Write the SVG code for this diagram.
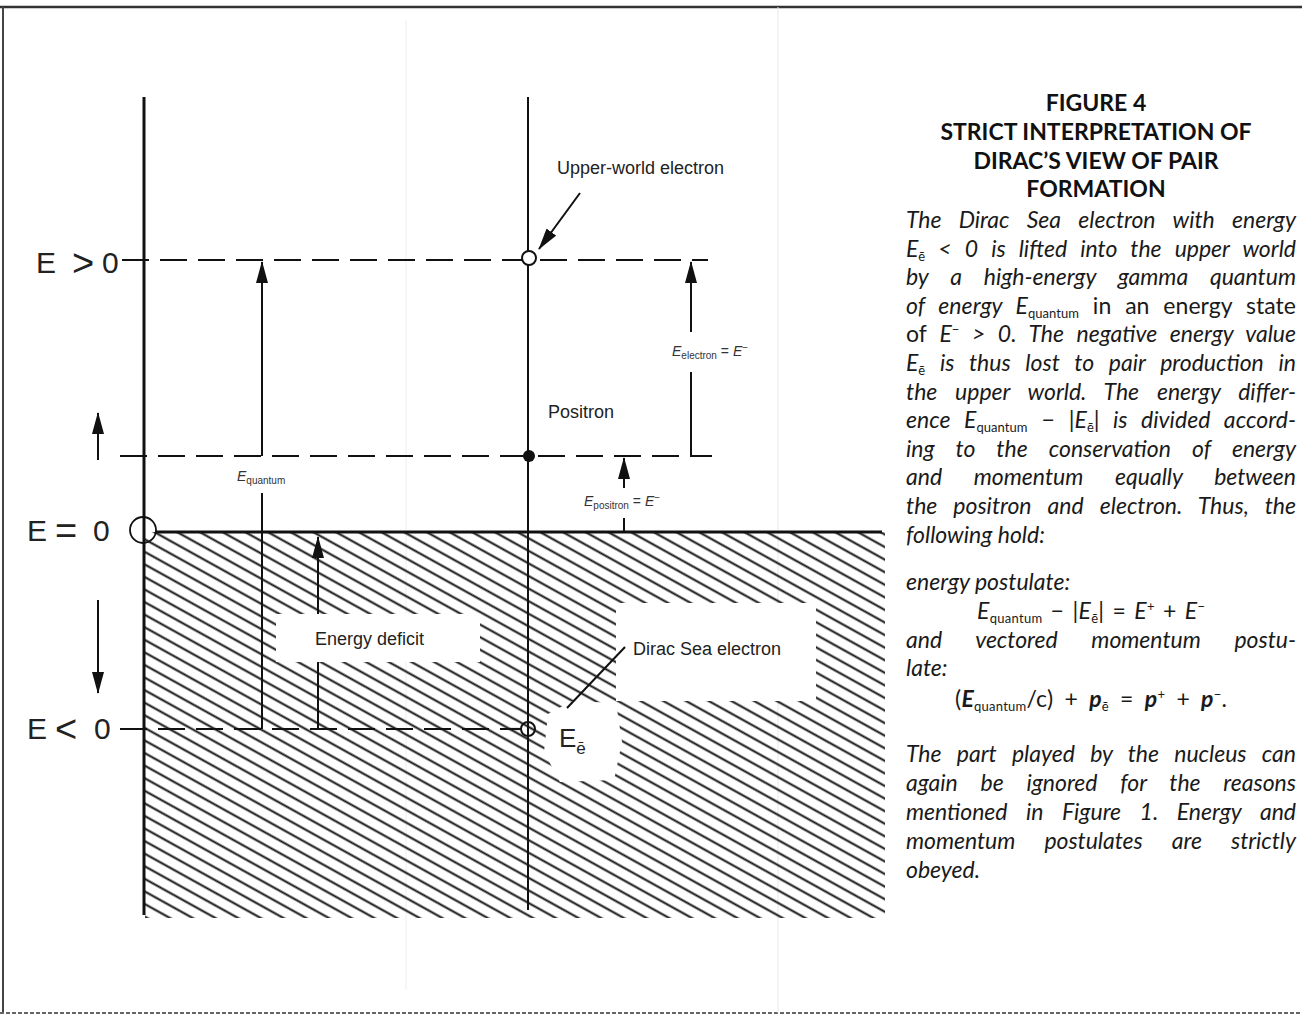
<svg xmlns="http://www.w3.org/2000/svg" width="1302" height="1020" viewBox="0 0 1302 1020">
<style>
.lbl{font-family:"Liberation Sans",Arial,sans-serif;font-size:18px;fill:#222}
.big{font-family:"Liberation Sans",Arial,sans-serif;font-size:30px;fill:#222}
.sym{font-size:38px}
.sm{font-family:"Liberation Sans",Arial,sans-serif;font-size:14px;fill:#333}
.smi{font-style:italic}
.sub{font-size:10px}
.ttl{font-family:Lato,"Open Sans",sans-serif;font-weight:bold;font-size:23px;fill:#111}
.body{font-family:Lato,"Open Sans",sans-serif;font-style:italic;font-size:23px;fill:#1a1a1a}
.up{font-style:normal}
.bs{font-size:13px;font-style:normal}
.bb{font-weight:bold}
.ln{stroke:#111;stroke-width:2;fill:none}
.dash{stroke:#111;stroke-width:2.2;stroke-dasharray:27 11;fill:none}
.arr{stroke:#111;stroke-width:2;fill:none;marker-end:url(#ah)}
</style>
<defs>
<marker id="ah" markerUnits="userSpaceOnUse" markerWidth="22" markerHeight="12" viewBox="0 0 22 12" refX="21" refY="6" orient="auto">
<path d="M0,0 L22,6 L0,12 Z" fill="#111"/>
</marker>
<pattern id="hatch" patternUnits="userSpaceOnUse" width="40" height="11" patternTransform="rotate(29)">
<line x1="0" y1="5.5" x2="40" y2="5.5" stroke="#111" stroke-width="2.2"/>
</pattern>
</defs>
<rect width="1302" height="1020" fill="#fff"/>
<g id="frame">
<line x1="0" y1="7" x2="1302" y2="7" stroke="#333" stroke-width="2.5"/>
<line x1="3" y1="7" x2="3" y2="1013" stroke="#444" stroke-width="2"/>
<line x1="0" y1="1013" x2="1302" y2="1013" stroke="#666" stroke-width="2" stroke-dasharray="4 2"/>
<line x1="406" y1="20" x2="406" y2="990" stroke="#eee" stroke-width="1"/>
<line x1="778" y1="7" x2="778" y2="1013" stroke="#e8e8e8" stroke-width="1"/>
</g>
<g id="dirac-sea">
<rect x="145" y="532" width="740" height="386" fill="url(#hatch)"/>
<rect x="276" y="614" width="204" height="48" fill="#fff"/>
<rect x="616" y="603" width="200" height="98" fill="#fff"/>
<polygon points="548,714 572,701 616,703 622,742 614,780 560,782 544,752" fill="#fff"/>
</g>
<g id="axes">
<line x1="144" y1="97" x2="144" y2="915" stroke="#111" stroke-width="3"/>
<line x1="156" y1="532" x2="882" y2="532" stroke="#111" stroke-width="3"/>
<line x1="528" y1="97" x2="528" y2="910" stroke="#111" stroke-width="2"/>
<circle cx="143" cy="530" r="13" fill="none" stroke="#111" stroke-width="1.8"/>
</g>
<g id="connectors">
<line class="dash" x1="122" y1="260" x2="708" y2="260"/>
<line class="dash" x1="120" y1="456" x2="712" y2="456"/>
<line class="dash" x1="120" y1="729" x2="521" y2="729"/>
<line class="arr" x1="98" y1="460" x2="98" y2="413"/>
<line class="arr" x1="98" y1="600" x2="98" y2="693"/>
<line class="arr" x1="262" y1="456" x2="262" y2="262"/>
<line class="ln" x1="262" y1="493" x2="262" y2="729"/>
<line class="arr" x1="318" y1="614" x2="318" y2="537"/>
<line class="ln" x1="318" y1="662" x2="318" y2="729"/>
<line class="arr" x1="691" y1="332" x2="691" y2="262"/>
<line class="ln" x1="691" y1="372" x2="691" y2="456"/>
<line class="arr" x1="624" y1="488" x2="624" y2="458"/>
<line class="ln" x1="624" y1="518" x2="624" y2="531"/>
<line class="arr" x1="580" y1="193" x2="539" y2="249"/>
<line class="ln" x1="625" y1="647" x2="567" y2="708"/>
</g>
<g id="upper-electron"><circle cx="529" cy="258" r="7" fill="#fff" stroke="#111" stroke-width="2"/></g>
<g id="positron"><circle cx="529" cy="456" r="6" fill="#111"/></g>
<g id="sea-electron"><circle cx="528" cy="729" r="7" fill="none" stroke="#111" stroke-width="2"/></g>
<g id="labels">
<text class="big" x="36" y="273">E</text><text class="big sym" x="72" y="276">&gt;</text><text class="big" x="102" y="273">0</text>
<text class="big" x="27" y="541">E</text><text class="big sym" x="55" y="544">=</text><text class="big" x="93" y="541">0</text>
<text class="big" x="27" y="739">E</text><text class="big sym" x="55" y="742">&lt;</text><text class="big" x="94" y="739">0</text>
<text class="lbl" x="557" y="174">Upper-world electron</text>
<text class="lbl" x="548" y="418">Positron</text>
<text class="lbl" x="315" y="645">Energy deficit</text>
<text class="lbl" x="633" y="655">Dirac Sea electron</text>
<text class="big" x="559" y="747" style="font-size:26px">E<tspan dy="7" style="font-size:17px">ē</tspan></text>
<text class="sm" x="237" y="481"><tspan class="smi">E</tspan><tspan class="sub" dy="3">quantum</tspan></text>
<text class="sm" x="672" y="356"><tspan class="smi">E</tspan><tspan class="sub" dy="3">electron</tspan><tspan dy="-3"> = </tspan><tspan class="smi">E</tspan><tspan class="sub" dy="-5">−</tspan></text>
<text class="sm" x="584" y="506"><tspan class="smi">E</tspan><tspan class="sub" dy="3">positron</tspan><tspan dy="-3"> = </tspan><tspan class="smi">E</tspan><tspan class="sub" dy="-5">−</tspan></text>
</g>
<g id="caption">
<text class="ttl" x="1096" y="111" text-anchor="middle">FIGURE 4</text>
<text class="ttl" x="1096" y="140" text-anchor="middle">STRICT INTERPRETATION OF</text>
<text class="ttl" x="1096" y="169" text-anchor="middle">DIRAC’S VIEW OF PAIR</text>
<text class="ttl" x="1096" y="197" text-anchor="middle">FORMATION</text>
<text class="body" x="906" y="228" word-spacing="11.9" textLength="390" lengthAdjust="spacing">The Dirac Sea electron with energy</text>
<text class="body" x="906" y="257" word-spacing="7.7" textLength="390" lengthAdjust="spacing">E<tspan class="bs" dy="4">ē</tspan><tspan dy="-4"> &lt; 0 is lifted into the upper world</tspan></text>
<text class="body" x="906" y="285" word-spacing="16.5" textLength="390" lengthAdjust="spacing">by a high-energy gamma quantum</text>
<text class="body" x="906" y="314" word-spacing="7.9" textLength="390" lengthAdjust="spacing">of energy E<tspan class="bs" dy="4">quantum</tspan><tspan class="up" dy="-4"> in an energy state</tspan></text>
<text class="body" x="906" y="342" word-spacing="7.2" textLength="390" lengthAdjust="spacing"><tspan class="up">of </tspan>E<tspan class="bs" dy="-8">−</tspan><tspan dy="8"> &gt; 0. The negative energy value</tspan></text>
<text class="body" x="906" y="371" word-spacing="9.3" textLength="390" lengthAdjust="spacing">E<tspan class="bs" dy="4">ē</tspan><tspan dy="-4"> is thus lost to pair production in</tspan></text>
<text class="body" x="906" y="400" word-spacing="12.4" textLength="390" lengthAdjust="spacing">the upper world. The energy differ-</text>
<text class="body" x="906" y="428" word-spacing="7.9" textLength="390" lengthAdjust="spacing">ence E<tspan class="bs" dy="4">quantum</tspan><tspan class="up" dy="-4"> − |</tspan>E<tspan class="bs" dy="4">ē</tspan><tspan class="up" dy="-4">|</tspan> is divided accord-</text>
<text class="body" x="906" y="457" word-spacing="15.7" textLength="390" lengthAdjust="spacing">ing to the conservation of energy</text>
<text class="body" x="906" y="485" word-spacing="26.2" textLength="390" lengthAdjust="spacing">and momentum equally between</text>
<text class="body" x="906" y="514" word-spacing="10.7" textLength="390" lengthAdjust="spacing">the positron and electron. Thus, the</text>
<text class="body" x="906" y="543">following hold:</text>
<text class="body" x="906" y="590">energy postulate:</text>
<text class="body" x="977" y="619" word-spacing="2" textLength="228" lengthAdjust="spacing">E<tspan class="bs" dy="4">quantum</tspan><tspan class="up" dy="-4"> − |</tspan>E<tspan class="bs" dy="4">ē</tspan><tspan class="up" dy="-4">| = </tspan>E<tspan class="bs" dy="-8">+</tspan><tspan class="up" dy="8"> + </tspan>E<tspan class="bs" dy="-8">−</tspan></text>
<text class="body" x="906" y="648" word-spacing="28.3" textLength="390" lengthAdjust="spacing">and vectored momentum postu-</text>
<text class="body" x="906" y="676">late:</text>
<text class="body" x="955" y="707" word-spacing="5" textLength="272" lengthAdjust="spacing"><tspan class="up">(</tspan><tspan class="bb">E</tspan><tspan class="bs" dy="4">quantum</tspan><tspan class="up" dy="-4">/c) + </tspan><tspan class="bb">p</tspan><tspan class="bs" dy="4">ē</tspan><tspan class="up" dy="-4"> = </tspan><tspan class="bb">p</tspan><tspan class="bs" dy="-8">+</tspan><tspan class="up" dy="8"> + </tspan><tspan class="bb">p</tspan><tspan class="bs" dy="-8">−</tspan><tspan class="up" dy="8">.</tspan></text>
<text class="body" x="906" y="762" word-spacing="10" textLength="390" lengthAdjust="spacing">The part played by the nucleus can</text>
<text class="body" x="906" y="791" word-spacing="17.4" textLength="390" lengthAdjust="spacing">again be ignored for the reasons</text>
<text class="body" x="906" y="820" word-spacing="13.2" textLength="390" lengthAdjust="spacing">mentioned in Figure 1. Energy and</text>
<text class="body" x="906" y="849" word-spacing="23.8" textLength="390" lengthAdjust="spacing">momentum postulates are strictly</text>
<text class="body" x="906" y="878">obeyed.</text>
</g>
</svg>
